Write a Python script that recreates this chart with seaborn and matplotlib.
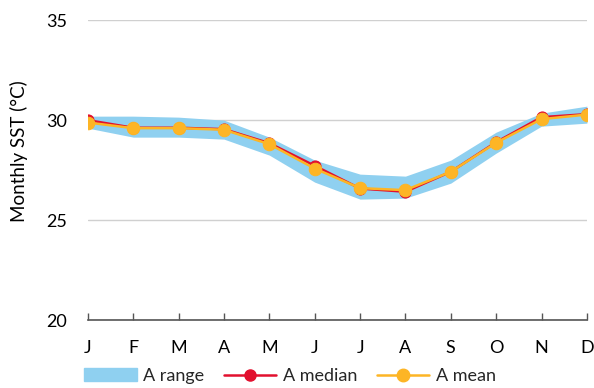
import matplotlib
matplotlib.use("Agg")
import matplotlib.pyplot as plt
import seaborn as sns
import pandas as pd
from matplotlib.patches import Patch
from matplotlib.lines import Line2D

months = ["J", "F", "M", "A", "M", "J", "J", "A", "S", "O", "N", "D"]
range_low = [29.6, 29.15, 29.15, 29.05, 28.25, 26.9, 26.05, 26.1, 26.85, 28.35, 29.7, 29.85]
range_high = [30.2, 30.2, 30.15, 30.0, 29.15, 28.0, 27.3, 27.2, 28.0, 29.4, 30.35, 30.7]
median_vals = [30.0, 29.62, 29.62, 29.55, 28.85, 27.72, 26.58, 26.42, 27.42, 28.9, 30.15, 30.3]
mean_vals = [29.88, 29.6, 29.6, 29.52, 28.8, 27.58, 26.6, 26.5, 27.42, 28.87, 30.05, 30.28]

sns.set_theme(style="white")
plt.rcParams['font.family'] = ['Lato', 'DejaVu Sans']

df = pd.DataFrame({"x": range(len(months)), "low": range_low, "high": range_high,
                   "median": median_vals, "mean": mean_vals})

fig = plt.figure(figsize=(5.94, 3.88), dpi=100)
ax = fig.add_axes([0.148, 0.175, 0.84, 0.773])

band_c = "#8FD0F0"
med_c = "#E2102E"
mean_c = "#FDB525"
fs = 13

ax.fill_between(df["x"], df["low"], df["high"], color=band_c, lw=0, zorder=1)
sns.lineplot(data=df, x="x", y="median", ax=ax, color=med_c, lw=1.8, marker="o",
             markersize=8, markeredgecolor=med_c, zorder=2)
sns.lineplot(data=df, x="x", y="mean", ax=ax, color=mean_c, lw=1.8, marker="o",
             markersize=9, markeredgecolor=mean_c, zorder=3)

ax.set_xlim(0, 11)
ax.set_ylim(20, 35)
ax.set_yticks([20, 25, 30, 35])
ax.set_xticks(range(12))
ax.set_xticklabels(months)
ax.grid(axis="y", color="#D0D0D0", lw=1)
ax.set_axisbelow(True)
for s in ["top", "right", "left"]:
    ax.spines[s].set_visible(False)
ax.spines["bottom"].set_color("#555555")
ax.spines["bottom"].set_linewidth(1.2)
ax.tick_params(axis="x", direction="in", length=5, color="#555555", width=1, pad=14,
               labelsize=fs, labelcolor="black", bottom=True)
ax.tick_params(axis="y", length=0, pad=15, labelsize=fs, labelcolor="black")
ax.set_xlabel("")
ax.set_ylabel("Monthly SST (°C)", fontsize=13.5, color="black")
ax.yaxis.set_label_coords(-0.12, 0.565)

handles = [Patch(color=band_c, label="A range"),
           Line2D([0], [0], color=med_c, lw=1.8, marker="o", markersize=8, label="A median"),
           Line2D([0], [0], color=mean_c, lw=1.8, marker="o", markersize=9, label="A mean")]
fig.legend(handles=handles, loc="center", bbox_to_anchor=(0.488, 0.031), ncol=3,
           frameon=False, fontsize=fs, handlelength=2.9, handleheight=0.7,
           columnspacing=1.1, handletextpad=0.35)

fig.savefig("out.png", dpi=100)
